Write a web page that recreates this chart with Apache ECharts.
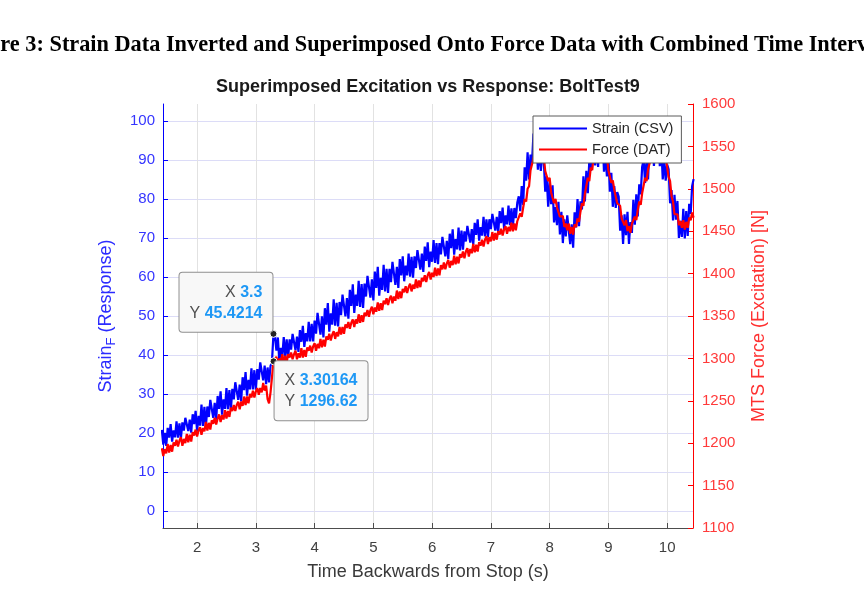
<!DOCTYPE html>
<html>
<head>
<meta charset="utf-8">
<script src="https://cdn.jsdelivr.net/npm/echarts@6/dist/echarts.min.js"></script>
<style>
    html, body { margin: 0; padding: 0; background: #fff; }
    #chart { width: 864px; height: 590px; }
</style>
</head>
<body>
<div id="chart"></div>
<script>
    // time axis (s), every 0.025 s
    const times = [
        1.400, 1.425, 1.450, 1.475, 1.500, 1.525, 1.550, 1.575,
        1.600, 1.625, 1.650, 1.675, 1.700, 1.725, 1.750, 1.775,
        1.800, 1.825, 1.850, 1.875, 1.900, 1.925, 1.950, 1.975,
        2.000, 2.025, 2.050, 2.075, 2.100, 2.125, 2.150, 2.175,
        2.200, 2.225, 2.250, 2.275, 2.300, 2.325, 2.350, 2.375,
        2.400, 2.425, 2.450, 2.475, 2.500, 2.525, 2.550, 2.575,
        2.600, 2.625, 2.650, 2.675, 2.700, 2.725, 2.750, 2.775,
        2.800, 2.825, 2.850, 2.875, 2.900, 2.925, 2.950, 2.975,
        3.000, 3.025, 3.050, 3.075, 3.100, 3.125, 3.150, 3.175,
        3.200, 3.225, 3.250, 3.275, 3.300, 3.325, 3.350, 3.375,
        3.400, 3.425, 3.450, 3.475, 3.500, 3.525, 3.550, 3.575,
        3.600, 3.625, 3.650, 3.675, 3.700, 3.725, 3.750, 3.775,
        3.800, 3.825, 3.850, 3.875, 3.900, 3.925, 3.950, 3.975,
        4.000, 4.025, 4.050, 4.075, 4.100, 4.125, 4.150, 4.175,
        4.200, 4.225, 4.250, 4.275, 4.300, 4.325, 4.350, 4.375,
        4.400, 4.425, 4.450, 4.475, 4.500, 4.525, 4.550, 4.575,
        4.600, 4.625, 4.650, 4.675, 4.700, 4.725, 4.750, 4.775,
        4.800, 4.825, 4.850, 4.875, 4.900, 4.925, 4.950, 4.975,
        5.000, 5.025, 5.050, 5.075, 5.100, 5.125, 5.150, 5.175,
        5.200, 5.225, 5.250, 5.275, 5.300, 5.325, 5.350, 5.375,
        5.400, 5.425, 5.450, 5.475, 5.500, 5.525, 5.550, 5.575,
        5.600, 5.625, 5.650, 5.675, 5.700, 5.725, 5.750, 5.775,
        5.800, 5.825, 5.850, 5.875, 5.900, 5.925, 5.950, 5.975,
        6.000, 6.025, 6.050, 6.075, 6.100, 6.125, 6.150, 6.175,
        6.200, 6.225, 6.250, 6.275, 6.300, 6.325, 6.350, 6.375,
        6.400, 6.425, 6.450, 6.475, 6.500, 6.525, 6.550, 6.575,
        6.600, 6.625, 6.650, 6.675, 6.700, 6.725, 6.750, 6.775,
        6.800, 6.825, 6.850, 6.875, 6.900, 6.925, 6.950, 6.975,
        7.000, 7.025, 7.050, 7.075, 7.100, 7.125, 7.150, 7.175,
        7.200, 7.225, 7.250, 7.275, 7.300, 7.325, 7.350, 7.375,
        7.400, 7.425, 7.450, 7.475, 7.500, 7.525, 7.550, 7.575,
        7.600, 7.625, 7.650, 7.675, 7.700, 7.725, 7.750, 7.775,
        7.800, 7.825, 7.850, 7.875, 7.900, 7.925, 7.950, 7.975,
        8.000, 8.025, 8.050, 8.075, 8.100, 8.125, 8.150, 8.175,
        8.200, 8.225, 8.250, 8.275, 8.300, 8.325, 8.350, 8.375,
        8.400, 8.425, 8.450, 8.475, 8.500, 8.525, 8.550, 8.575,
        8.600, 8.625, 8.650, 8.675, 8.700, 8.725, 8.750, 8.775,
        8.800, 8.825, 8.850, 8.875, 8.900, 8.925, 8.950, 8.975,
        9.000, 9.025, 9.050, 9.075, 9.100, 9.125, 9.150, 9.175,
        9.200, 9.225, 9.250, 9.275, 9.300, 9.325, 9.350, 9.375,
        9.400, 9.425, 9.450, 9.475, 9.500, 9.525, 9.550, 9.575,
        9.600, 9.625, 9.650, 9.675, 9.700, 9.725, 9.750, 9.775,
        9.800, 9.825, 9.850, 9.875, 9.900, 9.925, 9.950, 9.975,
        10.000, 10.025, 10.050, 10.075, 10.100, 10.125, 10.150, 10.175,
        10.200, 10.225, 10.250, 10.275, 10.300, 10.325, 10.350, 10.375,
        10.400, 10.425, 10.450
    ];

    // Strain (CSV), left axis
    const strainValues = [
        20.8, 17.0, 20.0, 16.7, 21.3, 18.8, 22.3, 17.8,
        20.7, 18.9, 23.0, 18.8, 22.5, 18.7, 22.7, 20.6,
        23.9, 24.3, 20.5, 23.4, 20.1, 24.8, 22.3, 25.7,
        20.4, 24.4, 21.9, 27.3, 21.8, 26.7, 21.6, 26.8,
        24.1, 28.5, 28.9, 23.9, 27.7, 23.4, 29.5, 26.2,
        30.7, 24.7, 28.6, 26.2, 31.5, 26.1, 31.0, 26.0,
        31.3, 28.6, 33.0, 33.5, 28.5, 32.4, 28.1, 34.3,
        31.0, 35.6, 29.6, 33.6, 31.2, 36.6, 31.2, 36.1,
        31.1, 36.4, 33.7, 38.1, 38.5, 33.5, 37.3, 32.5,
        36.8, 33.0, 37.2, 38.3, 45.4214, 44.9, 41.1, 44.5,
        38.3, 41.8, 39.7, 44.6, 39.6, 44.0, 39.3, 44.0,
        41.4, 45.4, 45.7, 41.2, 44.7, 40.8, 46.4, 43.4,
        47.5, 42.1, 45.6, 43.5, 48.5, 43.5, 48.0, 43.5,
        48.8, 45.5, 50.8, 51.3, 45.2, 49.9, 44.5, 52.0,
        47.8, 53.3, 46.0, 50.7, 47.8, 54.3, 47.5, 53.4,
        47.3, 53.6, 50.2, 55.5, 56.0, 49.9, 54.6, 49.3,
        56.7, 52.6, 58.1, 50.8, 55.5, 52.6, 59.0, 52.3,
        58.2, 52.1, 58.3, 55.0, 60.3, 60.8, 54.7, 59.4,
        54.0, 61.4, 57.2, 62.6, 55.2, 59.8, 56.7, 63.1,
        56.3, 62.1, 55.9, 62.1, 58.7, 63.9, 64.2, 58.0,
        62.6, 57.2, 64.6, 60.4, 65.3, 58.9, 62.9, 60.4,
        66.0, 60.1, 65.2, 59.8, 65.3, 62.3, 66.9, 67.3,
        61.9, 66.0, 61.3, 67.8, 64.1, 68.9, 62.5, 66.5,
        63.9, 69.5, 63.6, 68.7, 63.3, 68.7, 65.8, 70.3,
        70.7, 65.3, 69.3, 64.6, 71.1, 67.4, 72.2, 65.7,
        69.7, 67.1, 72.7, 66.8, 71.9, 67.0, 71.7, 69.1,
        73.1, 73.4, 68.8, 72.3, 68.3, 73.9, 70.8, 74.8,
        69.3, 72.8, 70.6, 75.4, 70.4, 74.8, 70.2, 74.8,
        72.3, 76.2, 76.6, 71.9, 75.4, 71.3, 76.9, 73.8,
        77.8, 72.3, 75.8, 73.5, 78.3, 73.3, 77.6, 73.0,
        77.7, 75.1, 79.1, 80.7, 76.9, 83.3, 78.5, 88.1,
        84.7, 92.0, 85.0, 91.4, 89.3, 96.8, 89.4, 95.2,
        87.5, 92.8, 87.2, 91.3, 90.1, 81.9, 85.8, 78.0,
        84.6, 78.7, 83.5, 74.0, 77.9, 73.3, 79.3, 70.9,
        76.7, 68.7, 74.8, 70.4, 75.8, 75.8, 68.4, 73.5,
        67.5, 76.6, 72.7, 80.0, 73.0, 79.4, 77.3, 85.8,
        79.4, 87.2, 81.5, 89.8, 87.2, 93.8, 95.1, 88.6,
        94.3, 88.2, 96.6, 91.2, 96.5, 87.0, 90.9, 85.8,
        91.3, 81.9, 86.7, 78.0, 83.3, 77.7, 81.8, 80.6,
        71.9, 75.8, 68.5, 76.1, 70.7, 76.7, 68.5, 74.1,
        71.3, 79.8, 73.4, 81.2, 75.5, 83.8, 81.2, 88.3,
        90.1, 84.1, 90.3, 85.0, 94.1, 89.9, 96.5, 88.5,
        93.9, 90.3, 97.3, 88.4, 93.7, 85.0, 90.3, 84.7,
        88.8, 87.6, 78.9, 82.3, 74.5, 81.1, 74.7, 79.5,
        70.0, 74.4, 70.3, 77.5, 69.9, 76.9, 70.5, 78.8,
        76.2, 83.3, 85.1
    ];

    // Force (DAT), right axis
    const forceValues = [
        1194, 1185, 1193, 1188, 1199, 1189, 1198, 1190,
        1201, 1197, 1204, 1196, 1203, 1207, 1197, 1205,
        1200, 1211, 1201, 1210, 1202, 1213, 1209, 1216,
        1208, 1215, 1219, 1210, 1218, 1214, 1225, 1215,
        1224, 1216, 1227, 1223, 1230, 1222, 1229, 1234,
        1225, 1233, 1228, 1239, 1229, 1238, 1231, 1242,
        1238, 1245, 1238, 1245, 1249, 1240, 1249, 1244,
        1255, 1245, 1255, 1247, 1258, 1254, 1262, 1254,
        1261, 1265, 1257, 1265, 1260, 1271, 1262, 1268,
        1252, 1247, 1260, 1278, 1296.62, 1299, 1302, 1293,
        1300, 1295, 1305, 1295, 1303, 1295, 1305, 1301,
        1307, 1299, 1305, 1309, 1299, 1306, 1301, 1312,
        1301, 1310, 1302, 1313, 1309, 1315, 1307, 1314,
        1318, 1309, 1317, 1312, 1323, 1313, 1322, 1314,
        1326, 1322, 1329, 1321, 1328, 1332, 1323, 1331,
        1326, 1337, 1328, 1337, 1329, 1340, 1336, 1343,
        1335, 1342, 1346, 1337, 1346, 1341, 1352, 1342,
        1351, 1343, 1354, 1350, 1357, 1349, 1357, 1361,
        1352, 1360, 1355, 1366, 1356, 1365, 1357, 1368,
        1364, 1371, 1363, 1370, 1374, 1365, 1373, 1368,
        1380, 1370, 1379, 1371, 1382, 1378, 1385, 1377,
        1384, 1388, 1379, 1387, 1382, 1393, 1383, 1392,
        1384, 1395, 1391, 1398, 1390, 1398, 1402, 1393,
        1401, 1396, 1407, 1397, 1406, 1398, 1410, 1405,
        1413, 1405, 1412, 1416, 1407, 1415, 1410, 1421,
        1411, 1420, 1412, 1423, 1419, 1426, 1418, 1426,
        1430, 1420, 1429, 1424, 1435, 1425, 1434, 1426,
        1437, 1433, 1440, 1432, 1440, 1444, 1435, 1443,
        1438, 1449, 1439, 1448, 1440, 1450, 1446, 1453,
        1445, 1452, 1456, 1447, 1455, 1450, 1460, 1450,
        1459, 1451, 1462, 1461, 1471, 1467, 1478, 1488,
        1485, 1500, 1503, 1522, 1520, 1536, 1536, 1550,
        1549, 1553, 1541, 1541, 1538, 1521, 1522, 1509,
        1513, 1496, 1498, 1483, 1488, 1478, 1480, 1467,
        1469, 1468, 1455, 1459, 1451, 1459, 1447, 1455,
        1446, 1458, 1455, 1465, 1461, 1473, 1483, 1480,
        1494, 1495, 1513, 1509, 1525, 1522, 1539, 1539,
        1550, 1544, 1552, 1555, 1544, 1547, 1536, 1539,
        1522, 1523, 1507, 1510, 1499, 1498, 1483, 1483,
        1480, 1465, 1467, 1457, 1463, 1450, 1456, 1448,
        1459, 1457, 1467, 1463, 1475, 1485, 1481, 1495,
        1496, 1513, 1509, 1523, 1521, 1536, 1537, 1547,
        1542, 1550, 1556, 1546, 1554, 1546, 1554, 1537,
        1538, 1514, 1509, 1491, 1485, 1470, 1470, 1470,
        1457, 1462, 1454, 1463, 1452, 1461, 1454, 1466,
        1463, 1472, 1466
    ];

    // tick labels
    const timeTicks = [2, 3, 4, 5, 6, 7, 8, 9, 10];
    const strainTicks = [0, 10, 20, 30, 40, 50, 60, 70, 80, 90, 100];

    // data tips
    const strainTip = [3.3, 45.4214];
    const forceTip = [3.30164, 1296.62];

    const strainData = times.map((t, i) => [t, strainValues[i]]);
    const forceData = times.map((t, i) => [t, forceValues[i]]);

    const tipBox = {
        backgroundColor: '#f8f8f8',
        borderColor: '#8f8f8f',
        borderWidth: 1,
        borderRadius: 3,
        padding: [9, 10, 8, 10],
        lineHeight: 21,
        fontSize: 16,
        rich: {
            k: { color: '#505050', fontSize: 16, lineHeight: 21 },
            v: { color: '#1e98f5', fontSize: 16, fontWeight: 'bold', lineHeight: 21 }
        }
    };

    const myChart = echarts.init(document.getElementById('chart'));
    myChart.setOption({
        animation: false,
        backgroundColor: '#fff',
        textStyle: { fontFamily: 'Arial, "Liberation Sans", sans-serif' },
        graphic: [{
            type: 'text',
            x: -43,
            y: 34,
            style: {
                text: 'Figure 3: Strain Data Inverted and Superimposed Onto Force Data with Combined Time Interval',
                font: 'bold 22.3px "Liberation Serif", "Times New Roman", serif',
                fill: '#000'
            }
        }, {
            type: 'text',
            x: 428,
            y: 78,
            style: {
                text: 'Superimposed Excitation vs Response: BoltTest9',
                font: 'bold 18px Arial, "Liberation Sans", sans-serif',
                fill: '#1a1a1a',
                align: 'center'
            }
        }],
        grid: {
            left: 163,
            right: 171,
            top: 104,
            bottom: 62,
            containLabel: false
        },
        legend: {
            left: 533,
            top: 116,
            orient: 'vertical',
            icon: 'rect',
            itemWidth: 48,
            itemHeight: 2,
            itemGap: 4,
            padding: [4, 8, 5, 6],
            backgroundColor: '#fff',
            borderColor: '#5a5a5a',
            borderWidth: 1,
            textStyle: { color: '#262626', fontSize: 14.5, lineHeight: 17 },
            data: ['Strain (CSV)', 'Force (DAT)']
        },
        xAxis: {
            type: 'value',
            min: 1.42,
            max: 10.44,
            name: 'Time Backwards from Stop (s)',
            nameLocation: 'middle',
            nameGap: 35,
            nameTextStyle: { color: '#3a3a3a', fontSize: 18 },
            axisLine: { onZero: false, lineStyle: { color: '#4d4d4d', width: 1 } },
            axisTick: { inside: true, length: 5, customValues: timeTicks, lineStyle: { color: '#4d4d4d' } },
            axisLabel: { customValues: timeTicks, color: '#404040', fontSize: 15, margin: 12 },
            splitLine: { show: true, lineStyle: { color: '#e2e2e2' } }
        },
        yAxis: [{
            type: 'value',
            position: 'left',
            min: -4.36,
            max: 104.36,
            name: '{m|Strain}{s|F}{m| (Response)}',
            nameLocation: 'middle',
            nameGap: 45,
            nameTextStyle: {
                rich: {
                    m: { color: '#2b2bff', fontSize: 18 },
                    s: { color: '#2b2bff', fontSize: 13, padding: [11, 0, 0, 0] }
                }
            },
            axisLine: { show: true, onZero: false, lineStyle: { color: '#0000ff', width: 1 } },
            axisTick: { inside: true, length: 5, customValues: strainTicks, lineStyle: { color: '#0000ff' } },
            axisLabel: { customValues: strainTicks, color: '#3535ff', fontSize: 15, margin: 8 },
            splitLine: { show: true, lineStyle: { color: '#dcdcf7' } }
        }, {
            type: 'value',
            position: 'right',
            min: 1100,
            max: 1600,
            interval: 50,
            name: 'MTS Force (Excitation) [N]',
            nameLocation: 'middle',
            nameRotate: 90,
            nameGap: 57,
            nameTextStyle: { color: '#ff3030', fontSize: 18 },
            axisLine: { show: true, onZero: false, lineStyle: { color: '#ff0000', width: 1 } },
            axisTick: { inside: true, length: 5, lineStyle: { color: '#ff0000' } },
            axisLabel: { color: '#ff3a3a', fontSize: 15, margin: 9, formatter: v => String(v) },
            splitLine: { show: false }
        }],
        series: [{
            name: 'Strain (CSV)',
            type: 'line',
            yAxisIndex: 0,
            data: strainData,
            symbol: 'none',
            color: '#0000ff',
            lineStyle: { color: '#0000ff', width: 2.2, join: 'bevel' },
            z: 2,
            markPoint: {
                symbol: 'circle',
                symbolSize: 7,
                itemStyle: { color: '#222', borderColor: '#fff', borderWidth: 1 },
                data: [{
                    coord: strainTip,
                    label: Object.assign({
                        show: true,
                        position: [3, -57],
                        align: 'right',
                        verticalAlign: 'top',
                        formatter: '{k|X} {v|' + strainTip[0] + '}\n{k|Y} {v|' + strainTip[1] + '}'
                    }, tipBox)
                }]
            }
        }, {
            name: 'Force (DAT)',
            type: 'line',
            yAxisIndex: 1,
            data: forceData,
            symbol: 'none',
            color: '#ff0000',
            lineStyle: { color: '#ff0000', width: 2.2, join: 'bevel' },
            z: 3,
            markPoint: {
                symbol: 'circle',
                symbolSize: 7,
                itemStyle: { color: '#222', borderColor: '#fff', borderWidth: 1 },
                data: [{
                    coord: forceTip,
                    label: Object.assign({
                        show: true,
                        position: [5, 4],
                        align: 'left',
                        verticalAlign: 'top',
                        formatter: '{k|X} {v|' + forceTip[0] + '}\n{k|Y} {v|' + forceTip[1] + '}'
                    }, tipBox)
                }]
            }
        }]
    });
</script>
</body>
</html>
